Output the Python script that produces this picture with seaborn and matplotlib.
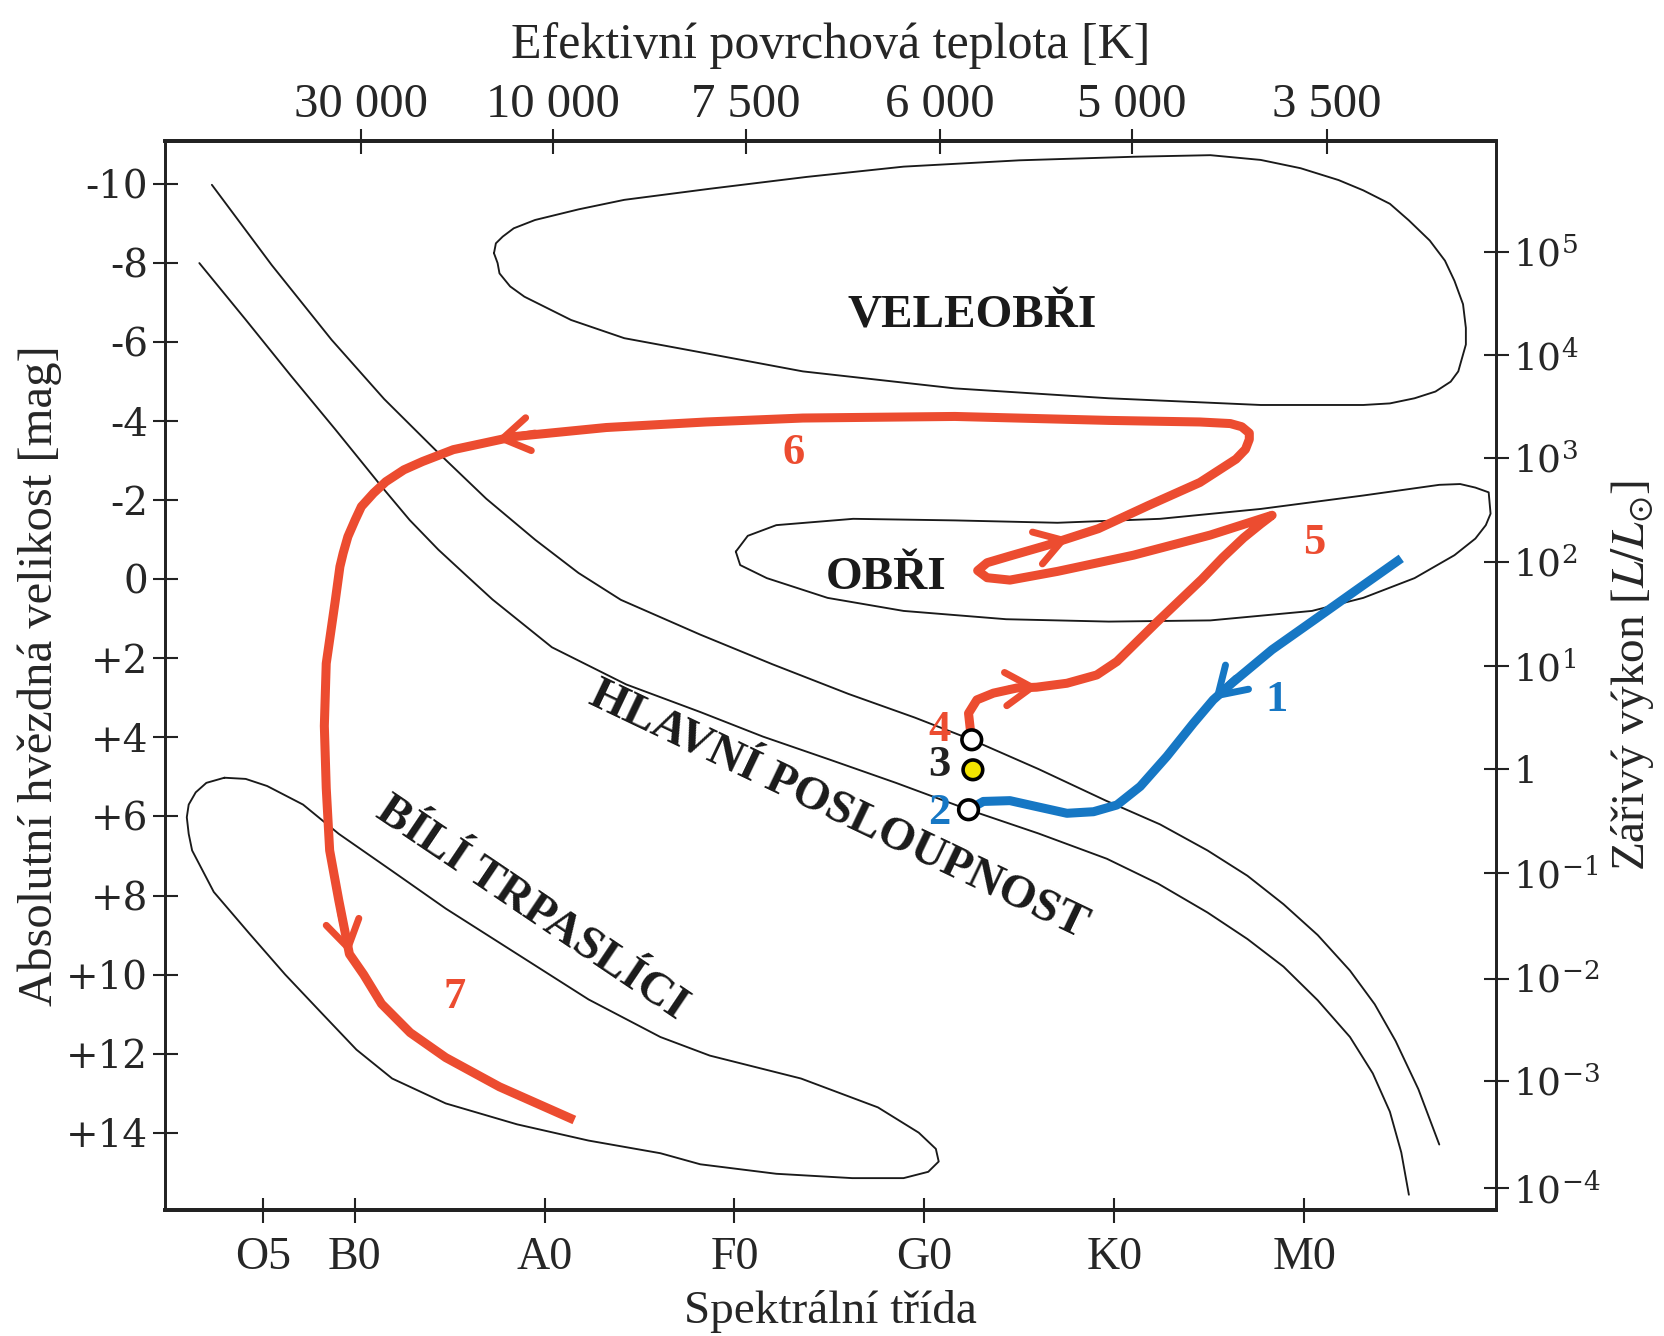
import numpy as np
import matplotlib
matplotlib.use("Agg")
import matplotlib.pyplot as plt
import seaborn as sns

# x = spectral class index (O5=0.52, B0=1, A0=2, ... M0=6), y = absolute magnitude
spec_pos = [0.52, 1, 2, 3, 4, 5, 6]
spec_labels = ["O5", "B0", "A0", "F0", "G0", "K0", "M0"]
temp_pos = [1.034, 2.045, 3.06, 4.08, 5.09, 6.12]
temp_labels = ["30 000", "10 000", "7 500", "6 000", "5 000", "3 500"]
mag_ticks = [-10, -8, -6, -4, -2, 0, 2, 4, 6, 8, 10, 12, 14]
mag_labels = ["-10", "-8", "-6", "-4", "-2", "0", "+2", "+4", "+6", "+8", "+10", "+12", "+14"]
lum_pos = [-8.27, -5.67, -3.06, -0.43, 2.2, 4.8, 7.44, 10.1, 12.7, 15.4]
lum_labels = [r"$10^{5}$", r"$10^{4}$", r"$10^{3}$", r"$10^{2}$", r"$10^{1}$", "1",
              r"$10^{-1}$", r"$10^{-2}$", r"$10^{-3}$", r"$10^{-4}$"]

# main sequence band edges
ms_upper_x = [0.249, 0.564, 0.879, 1.156, 1.443, 1.693, 1.951, 2.179, 2.402, 2.82, 3.2, 3.6,
              3.95, 4.249, 4.6, 4.955, 5.24, 5.49, 5.70, 5.89, 6.07, 6.24, 6.37, 6.48, 6.60, 6.71]
ms_upper_m = [-9.98, -7.95, -6.06, -4.56, -3.19, -2.04, -1.0, -0.16, 0.52, 1.40, 2.15, 2.9,
              3.5, 4.06, 4.8, 5.6, 6.2, 6.86, 7.5, 8.22, 9.0, 9.9, 10.75, 11.68, 12.9, 14.3]
ms_lower_x = [0.183, 0.425, 0.665, 0.899, 1.14, 1.29, 1.441, 1.592, 1.726, 2.039, 2.43, 2.821,
              3.15, 3.5, 3.85, 4.232, 4.6, 4.96, 5.23, 5.49, 5.70, 5.89, 6.07, 6.24, 6.36, 6.45,
              6.51, 6.55]
ms_lower_m = [-8.0, -6.58, -5.15, -3.79, -2.36, -1.50, -0.75, -0.08, 0.51, 1.72, 2.66, 3.36,
              3.98, 4.56, 5.15, 5.83, 6.43, 7.07, 7.7, 8.43, 9.1, 9.8, 10.65, 11.58, 12.5, 13.47,
              14.5, 15.57]

# region outlines
superg_x = [1.734, 1.744, 1.78, 1.838, 1.95, 2.18, 2.42, 2.87, 3.38, 3.89, 4.5, 5.10, 5.505, 5.77,
            5.98, 6.18, 6.31, 6.45, 6.55, 6.66, 6.74, 6.79, 6.835, 6.85, 6.85, 6.83, 6.81, 6.77,
            6.69, 6.58, 6.45, 6.31, 5.77, 4.97, 4.16, 3.36, 2.87, 2.42, 2.14, 1.894, 1.819,
            1.763, 1.753]
superg_m = [-8.25, -8.5, -8.67, -8.88, -9.09, -9.36, -9.6, -9.88, -10.18, -10.44, -10.6, -10.69,
            -10.73, -10.61, -10.4, -10.10, -9.84, -9.50, -9.08, -8.57, -8.06, -7.55, -6.96,
            -6.36, -5.94, -5.60, -5.26, -5.0, -4.75, -4.58, -4.45, -4.41, -4.41, -4.58, -4.83,
            -5.26, -5.7, -6.1, -6.56, -7.15, -7.41, -7.74, -8.0]
giant_x = [3.007, 3.07, 3.22, 3.625, 4.16, 4.70, 5.24, 5.77, 6.31, 6.71, 6.82, 6.90, 6.97, 6.98,
           6.955, 6.90, 6.79, 6.58, 6.31, 6.04, 5.505, 4.97, 4.43, 3.89, 3.49, 3.17, 3.03]
giant_m = [-0.70, -1.1, -1.37, -1.53, -1.49, -1.43, -1.53, -1.78, -2.12, -2.39, -2.41, -2.32,
           -2.2, -1.66, -1.37, -1.03, -0.61, -0.03, 0.47, 0.80, 1.04, 1.07, 1.01, 0.80, 0.47,
           -0.03, -0.36]
dwarf_x = [0.315, 0.427, 0.54, 0.729, 0.917, 1.198, 1.48, 1.856, 2.232, 2.61, 2.87, 3.35, 3.755,
           3.97, 4.06, 4.075, 4.02, 3.89, 3.62, 3.22, 2.82, 2.61, 2.232, 1.856, 1.48, 1.198,
           1.01, 0.822, 0.635, 0.446, 0.259, 0.145, 0.127, 0.117, 0.127, 0.164, 0.22]
dwarf_m = [5.02, 5.05, 5.23, 5.70, 6.44, 7.38, 8.33, 9.48, 10.63, 11.58, 12.05, 12.63, 13.36,
           14.0, 14.41, 14.73, 14.99, 15.15, 15.15, 15.04, 14.8, 14.52, 14.2, 13.79, 13.26,
           12.63, 11.9, 10.95, 10.0, 8.96, 7.91, 6.86, 6.44, 6.02, 5.70, 5.39, 5.15]

# evolutionary tracks
red_x = [4.245, 4.232, 4.276, 4.363, 4.486, 4.59, 4.75, 4.907, 5.013, 5.11, 5.22, 5.34, 5.46,
         5.57, 5.68, 5.77, 5.83, 5.505, 5.10, 4.70, 4.45, 4.33, 4.28, 4.33, 4.45, 4.645, 4.915,
         5.18, 5.45, 5.64, 5.69, 5.71, 5.71, 5.67, 5.61, 5.45, 4.97, 4.16, 3.36, 2.85, 2.325,
         1.84, 1.52, 1.358, 1.26, 1.165, 1.10, 1.036, 1.003, 0.965, 0.94, 0.923, 0.898, 0.851,
         0.841, 0.851, 0.869, 0.917, 0.973, 1.048, 1.142, 1.293, 1.48, 1.763, 2.157]
red_m = [3.95, 3.39, 3.05, 2.88, 2.75, 2.73, 2.63, 2.42, 2.08, 1.62, 1.10, 0.55, 0.0,
         -0.55, -1.05, -1.40, -1.62, -1.12, -0.61, -0.20, 0.02, -0.04, -0.22, -0.42, -0.59, -0.86,
         -1.28, -1.87, -2.45, -3.04, -3.29, -3.54, -3.70, -3.86, -3.94, -3.98, -4.02, -4.12,
         -4.08, -3.98, -3.84, -3.61, -3.28, -2.98, -2.77, -2.47, -2.18, -1.84, -1.50, -1.08,
         -0.66, -0.32, 0.56, 2.13, 3.71, 5.28, 6.86, 8.12, 9.48, 10.0, 10.74, 11.47, 12.10,
         12.84, 13.68]
blue_x = [4.232, 4.31, 4.45, 4.59, 4.75, 4.89, 5.013, 5.136, 5.276, 5.416, 5.52, 5.62, 5.83,
          6.06, 6.28, 6.51]
blue_m = [5.83, 5.62, 5.60, 5.75, 5.92, 5.88, 5.71, 5.24, 4.48, 3.64, 3.05, 2.62, 1.78,
          1.0, 0.25, -0.53]

arrow_tip_x = [4.60, 4.76, 1.745, 0.973, 5.52]
arrow_tip_m = [2.72, -1.04, -3.53, 9.48, 3.05]
arrow_from_x = [4.45, 4.60, 1.95, 0.925, 5.64]
arrow_from_m = [2.77, -0.80, -3.70, 8.4, 2.50]

stage_x = [4.249, 4.255, 4.232]
stage_m = [4.06, 4.82, 5.83]
stage_face = ["white", "#f3e400", "white"]
num_text = ["1", "2", "3", "4", "5", "6", "7"]
num_x = [5.855, 4.08, 4.08, 4.08, 6.05, 3.31, 1.525]
num_m = [3.06, 5.92, 4.70, 3.81, -0.91, -3.19, 10.58]

RED = "#ec4c30"
BLUE = "#1677c4"
num_color = [BLUE, BLUE, "#222222", RED, RED, RED, RED]
arrow_color = [RED, RED, RED, RED, BLUE]

sns.set_style("ticks")
plt.rcParams["font.family"] = ["Liberation Serif", "DejaVu Serif"]

fig = plt.figure(figsize=(16.64, 13.36), dpi=100)
ax = fig.add_axes([0.0989, 0.0945, 0.8003, 0.80])


def closed(xs, ys):
    return list(xs) + [xs[0]], list(ys) + [ys[0]]


outline = dict(color="#1a1a1a", lw=1.35, sort=False, estimator=None, ax=ax,
               solid_joinstyle="round")
sns.lineplot(x=ms_upper_x, y=ms_upper_m, **outline)
sns.lineplot(x=ms_lower_x, y=ms_lower_m, **outline)
for xs, ys in [(superg_x, superg_m), (giant_x, giant_m), (dwarf_x, dwarf_m)]:
    cx, cy = closed(xs, ys)
    sns.lineplot(x=cx, y=cy, **outline)

sns.lineplot(x=red_x, y=red_m, color=RED, lw=6.5, sort=False, estimator=None, ax=ax,
             solid_joinstyle="round", solid_capstyle="butt")
sns.lineplot(x=blue_x, y=blue_m, color=BLUE, lw=6.5, sort=False, estimator=None, ax=ax,
             solid_joinstyle="round", solid_capstyle="butt")

for tx, tm, fx, fm, c in zip(arrow_tip_x, arrow_tip_m, arrow_from_x, arrow_from_m, arrow_color):
    ax.annotate("", xy=(tx, tm), xytext=(fx, fm),
                arrowprops=dict(arrowstyle="->,head_length=0.95,head_width=0.6", lw=5,
                                color=c, shrinkA=0, shrinkB=0, mutation_scale=20))

sns.scatterplot(x=stage_x, y=stage_m, hue=stage_face, palette={c: c for c in stage_face},
                s=200, edgecolor="black", linewidth=2.6, legend=False, ax=ax, zorder=5)

for t, x, m, c in zip(num_text, num_x, num_m, num_color):
    ax.text(x, m, t, color=c, fontsize=32, fontweight="bold", ha="center", va="center")

region_font = dict(fontsize=34, fontweight="bold", ha="center", va="center", color="#1a1a1a")
ax.text(4.25, -6.66, "VELEOBŘI", **region_font)
ax.text(3.80, -0.03, "OBŘI", **region_font)
ax.text(3.55, 5.85, "HLAVNÍ POSLOUPNOST", rotation=-25.5, rotation_mode="anchor", **region_font)
ax.text(1.93, 8.35, "BÍLÍ TRPASLÍCI", rotation=-34, rotation_mode="anchor", **region_font)

ax.set_xlim(0, 7.01)
ax.set_ylim(15.95, -11.09)
ax.set_xticks(spec_pos)
ax.set_xticklabels(spec_labels, fontsize=33)
ax.set_yticks(mag_ticks)
ax.set_yticklabels(mag_labels, fontsize=28, fontfamily="DejaVu Serif")
ax.tick_params(axis="both", direction="inout", length=18, width=1.5, color="#222222")
ax.tick_params(axis="x", pad=10)
ax.tick_params(axis="y", pad=3)
ax.set_xlabel("Spektrální třída", fontsize=34, labelpad=8)
ax.set_ylabel("Absolutní hvězdná velikost [mag]", fontsize=35, labelpad=3)

axt = ax.twiny()
axt.set_xlim(ax.get_xlim())
axt.set_xticks(temp_pos)
axt.set_xticklabels(temp_labels, fontsize=35)
axt.tick_params(axis="x", direction="inout", length=18, width=1.5, pad=1, color="#222222")
axt.set_xlabel("Efektivní povrchová teplota [K]", fontsize=36, labelpad=18)

axr = ax.twinx()
axr.set_ylim(ax.get_ylim())
axr.set_yticks(lum_pos)
axr.set_yticklabels(lum_labels, fontsize=27, fontfamily="DejaVu Serif", math_fontfamily="dejavuserif")
axr.tick_params(axis="y", direction="inout", length=18, width=1.5, pad=3, color="#222222")
axr.set_ylabel(r"Zářivý výkon [$L/L_{\odot}$]", fontsize=34, labelpad=6, math_fontfamily="stix")

for a in (ax, axt, axr):
    for side in ("left", "right"):
        a.spines[side].set_linewidth(1.8)
    for side in ("top", "bottom"):
        a.spines[side].set_linewidth(2.6)
    for sp in a.spines.values():
        sp.set_color("#222222")

fig.savefig("out.png", dpi=100, facecolor="white")
